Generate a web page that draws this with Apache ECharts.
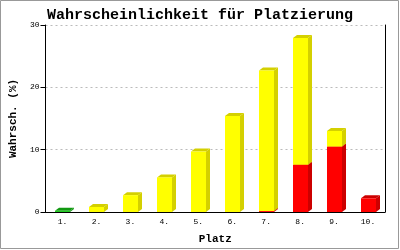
<!DOCTYPE html>
<html>
<head>
<meta charset="utf-8">
<script src="https://cdn.jsdelivr.net/npm/echarts@6/dist/echarts.min.js"></script>
<style>html,body{margin:0;padding:0;background:#fff}#c{width:400px;height:250px}</style>
</head>
<body>
<div id="c"></div>
<script>
var categories = ['1.', '2.', '3.', '4.', '5.', '6.', '7.', '8.', '9.', '10.'];
var greenValues = [0.2, 0, 0, 0, 0, 0, 0, 0, 0, 0];
var redValues = [0, 0, 0, 0, 0, 0, 0.15, 7.6, 10.5, 2.2];
var yellowValues = [0, 0.8, 2.7, 5.55, 9.7, 15.4, 22.55, 20.3, 2.5, 0];
var yTicks = [0, 10, 20, 30];

var FONT = '"Liberation Mono", "DejaVu Sans Mono", monospace';

function buildData(vals, bases) {
  return vals.map(function (v, i) {
    var b = bases ? bases[i] : 0;
    return [i, b, b + v];
  });
}

function make3D(front, side) {
  return function (params, api) {
    var i = api.value(0), b = api.value(1), t = api.value(2);
    if (t - b <= 0) return null;
    var p0 = api.coord([i, b]);
    var p1 = api.coord([i, t]);
    var w = 15, dx = 4, dy = 3;
    var x0 = Math.round(p0[0] - w / 2), x1 = x0 + w;
    var yb = p0[1], yt = p1[1];
    return {
      type: 'group',
      children: [
        { type: 'polygon', shape: { points: [[x1, yb], [x1 + dx, yb - dy], [x1 + dx, yt - dy], [x1, yt]] }, style: { fill: side } },
        { type: 'polygon', shape: { points: [[x0, yt], [x0 + dx, yt - dy], [x1 + dx, yt - dy], [x1, yt]] }, style: { fill: side } },
        { type: 'rect', shape: { x: x0, y: yt, width: w, height: yb - yt }, style: { fill: front } }
      ]
    };
  };
}

var chart = echarts.init(document.getElementById('c'), null, { renderer: 'canvas' });
chart.setOption({
  animation: false,
  backgroundColor: '#fff',
  title: {
    text: 'Wahrscheinlichkeit für Platzierung',
    left: 'center',
    top: 3,
    textStyle: { fontFamily: FONT, fontWeight: 'bold', fontSize: 15, color: '#000' }
  },
  grid: { left: 43, right: 15, top: 25, bottom: 36 },
  xAxis: {
    type: 'category',
    data: categories,
    name: 'Platz',
    nameLocation: 'middle',
    nameGap: 22,
    nameTextStyle: { fontFamily: FONT, fontWeight: 'bold', fontSize: 11, color: '#000' },
    axisLine: { lineStyle: { color: '#000', width: 1 } },
    axisTick: { show: false },
    axisLabel: { fontFamily: FONT, fontSize: 8, color: '#000', margin: 6 },
    splitLine: { show: false }
  },
  yAxis: [{
    type: 'value',
    min: yTicks[0],
    max: yTicks[yTicks.length - 1],
    interval: 10,
    name: 'Wahrsch. (%)',
    nameLocation: 'middle',
    nameGap: 25,
    nameTextStyle: { fontFamily: FONT, fontWeight: 'bold', fontSize: 11, color: '#000' },
    axisLine: { show: true, lineStyle: { color: '#000', width: 1 } },
    axisTick: { show: true, length: 5, lineStyle: { color: '#000' } },
    axisLabel: { fontFamily: FONT, fontSize: 8, color: '#000', margin: 6 },
    splitLine: { show: true, lineStyle: { color: '#bbbbbb', type: [2, 3] } }
  }, {
    type: 'value',
    position: 'right',
    min: 0, max: 30, interval: 10,
    axisLine: { show: true, lineStyle: { color: '#000', width: 1 } },
    axisTick: { show: false },
    axisLabel: { show: false },
    splitLine: { show: false }
  }],
  graphic: [{
    type: 'rect',
    shape: { x: 0.5, y: 0.5, width: 398, height: 248 },
    style: { fill: null, stroke: '#999999', lineWidth: 1 },
    silent: true
  }],
  series: [
    { type: 'custom', name: 'green', renderItem: make3D('#22cc22', '#119911'), data: buildData(greenValues), encode: { x: 0, y: [1, 2] } },
    { type: 'custom', name: 'red', renderItem: make3D('#ff0000', '#cc0000'), data: buildData(redValues), encode: { x: 0, y: [1, 2] } },
    { type: 'custom', name: 'yellow', renderItem: make3D('#ffff00', '#d4d000'), data: buildData(yellowValues, redValues), encode: { x: 0, y: [1, 2] } }
  ]
});
</script>
</body>
</html>
